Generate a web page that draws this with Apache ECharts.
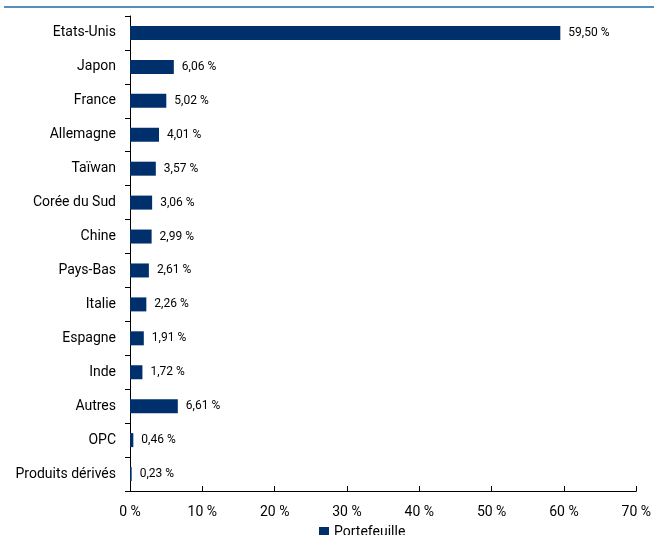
<!DOCTYPE html>
<html>
<head>
<meta charset="utf-8">
<script src="https://cdn.jsdelivr.net/npm/echarts@6/dist/echarts.min.js"></script>
<style>
  html, body { margin: 0; padding: 0; background: #fff; }
  #chart { width: 654px; height: 535px; }
</style>
</head>
<body>
<div id="chart"></div>
<script>
const countries = ['Etats-Unis', 'Japon', 'France', 'Allemagne', 'Taïwan', 'Corée du Sud', 'Chine',
  'Pays-Bas', 'Italie', 'Espagne', 'Inde', 'Autres', 'OPC', 'Produits dérivés'];
const weights = [59.50, 6.06, 5.02, 4.01, 3.57, 3.06, 2.99, 2.61, 2.26, 1.91, 1.72, 6.61, 0.46, 0.23];
const seriesName = 'Portefeuille';

const fmt = function (v) {
  return v.toFixed(2).replace('.', ',') + ' %';
};

const chartDom = document.getElementById('chart');
const mychart = echarts.init(chartDom);

const option = {
  animation: false,
  textStyle: { fontFamily: 'Roboto' },
  graphic: [{
    type: 'line',
    shape: { x1: 4, y1: 7, x2: 654, y2: 7 },
    style: { stroke: '#1f6aa5', lineWidth: 1.5 },
  }],
  grid: { left: 130, right: 16, top: 16, bottom: 44 },
  legend: {
    data: [seriesName],
    bottom: -9,
    left: 314,
    itemWidth: 10,
    itemHeight: 10,
    itemGap: 4,
    icon: 'rect',
    textStyle: { fontSize: 14, color: '#000' },
  },
  xAxis: {
    type: 'value',
    min: 0,
    max: 70,
    interval: 10,
    axisLine: { show: true, lineStyle: { color: '#000' } },
    axisTick: { show: true, length: 5, inside: true, lineStyle: { color: '#000' } },
    splitLine: { show: false },
    axisLabel: {
      color: '#000',
      fontSize: 14,
      margin: 14,
      formatter: function (v) { return v + ' %'; },
    },
  },
  yAxis: {
    type: 'category',
    data: countries,
    inverse: true,
    axisLine: { show: true, lineStyle: { color: '#000' } },
    axisTick: { show: true, length: 5, lineStyle: { color: '#000' } },
    axisLabel: { color: '#000', fontSize: 14, margin: 14 },
  },
  series: [{
    name: seriesName,
    type: 'bar',
    data: weights,
    barWidth: 14,
    itemStyle: { color: '#00306b' },
    label: {
      show: true,
      position: 'right',
      distance: 8,
      color: '#000',
      fontSize: 12,
      formatter: function (p) { return fmt(p.value); },
    },
  }],
};

mychart.setOption(option);
</script>
</body>
</html>
